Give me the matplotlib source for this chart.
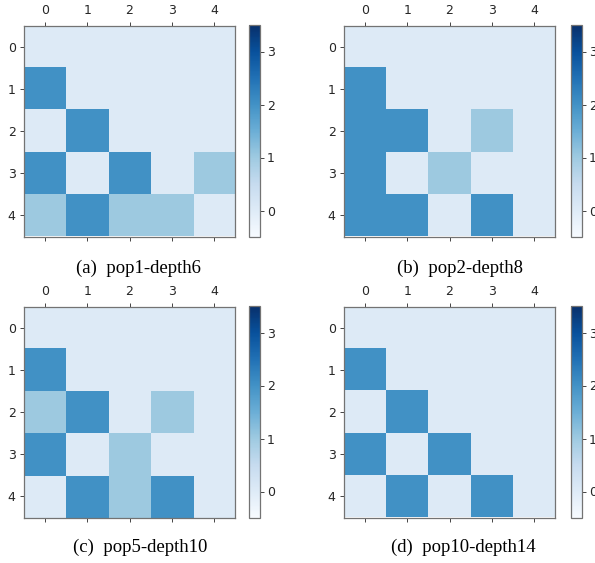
import numpy as np
import matplotlib
matplotlib.use("Agg")
import matplotlib.pyplot as plt

# adjacency-like matrices, one per run
pop1_depth6 = [[0, 0, 0, 0, 0],
               [2, 0, 0, 0, 0],
               [0, 2, 0, 0, 0],
               [2, 0, 2, 0, 1],
               [1, 2, 1, 1, 0]]
pop2_depth8 = [[0, 0, 0, 0, 0],
               [2, 0, 0, 0, 0],
               [2, 2, 0, 1, 0],
               [2, 0, 1, 0, 0],
               [2, 2, 0, 2, 0]]
pop5_depth10 = [[0, 0, 0, 0, 0],
                [2, 0, 0, 0, 0],
                [1, 2, 0, 1, 0],
                [2, 0, 1, 0, 0],
                [0, 2, 1, 2, 0]]
pop10_depth14 = [[0, 0, 0, 0, 0],
                 [2, 0, 0, 0, 0],
                 [0, 2, 0, 0, 0],
                 [2, 0, 2, 0, 0],
                 [0, 2, 0, 2, 0]]

captions = ["(a)  pop1-depth6", "(b)  pop2-depth8",
            "(c)  pop5-depth10", "(d)  pop10-depth14"]
matrices = [pop1_depth6, pop2_depth8, pop5_depth10, pop10_depth14]
ticks = [0, 1, 2, 3, 4]
cbar_ticks = [0, 1, 2, 3]

W, H = 595, 563
fig = plt.figure(figsize=(W / 100, H / 100), dpi=100)

# pixel boxes: (image left, image top, cbar left, caption x, caption y)
panels = [(24, 25, 249, 138, 268),
          (344, 25, 571, 460, 268),
          (24, 306, 249, 140, 547),
          (344, 306, 571, 463, 547)]
img_w, img_h = 211, 212
cb_w = 11

for mat, cap, (x0, y0, cx, tx, ty) in zip(matrices, captions, panels):
    ax = fig.add_axes([x0 / W, 1 - (y0 + img_h) / H, img_w / W, img_h / H])
    im = ax.matshow(np.array(mat), cmap="Blues", vmin=-0.5, vmax=3.5)
    ax.set_xticks(ticks)
    ax.set_yticks(ticks)
    ax.tick_params(labelsize=9, length=3, width=0.6, colors="0.15", pad=3)
    ax.tick_params(axis="x", bottom=True, labelbottom=False)
    for s in ax.spines.values():
        s.set_color("0.45")
        s.set_linewidth(0.9)
    cax = fig.add_axes([cx / W, 1 - (y0 + img_h) / H, cb_w / W, img_h / H])
    cb = fig.colorbar(im, cax=cax, ticks=cbar_ticks)
    cb.ax.tick_params(labelsize=9, length=3, width=0.6, colors="0.15", pad=2)
    cb.outline.set_edgecolor("0.45")
    cb.outline.set_linewidth(0.9)
    fig.text(tx / W, 1 - ty / H, cap, ha="center", va="center",
             fontsize=13.5, family="Liberation Serif")

fig.savefig("out.png", dpi=100)
